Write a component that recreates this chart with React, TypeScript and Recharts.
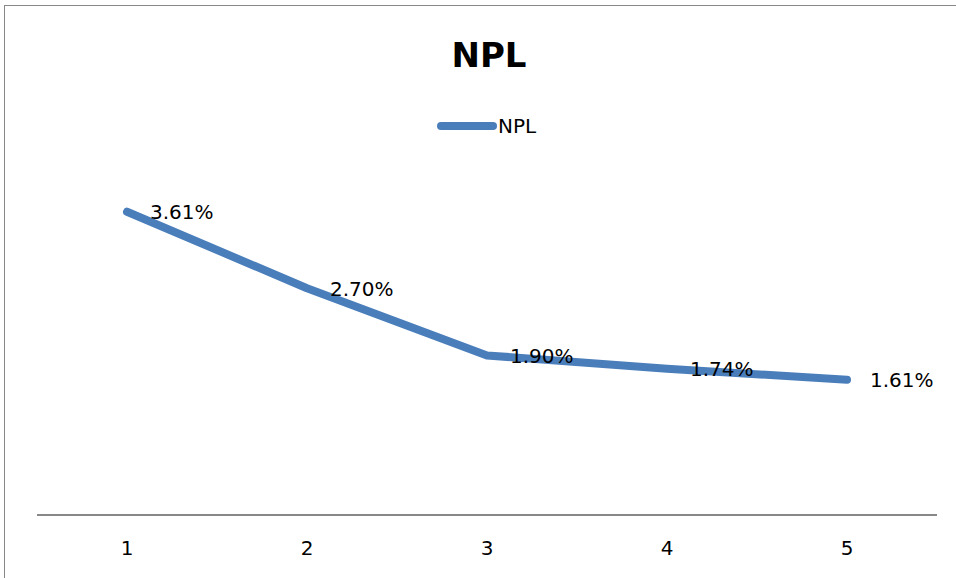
import React from 'react'
import { LineChart, Line, XAxis, YAxis, LabelList } from 'recharts'

const categories = ['1', '2', '3', '4', '5']
const nplValues = [3.61, 2.7, 1.9, 1.74, 1.61]
const seriesName = 'NPL'

const data = categories.map((c, i) => ({ name: c, NPL: nplValues[i] }))

const font = '"DejaVu Sans", sans-serif'
const blue = '#4a7ebb'

const PctLabel = (props: any) => {
  const { x, y, value } = props
  return (
    <text x={x + 23} y={y + 2} fontSize={20} fontFamily={font} fill="#000" textAnchor="start" dominantBaseline="middle">
      {Number(value).toFixed(2)}%
    </text>
  )
}

const Tick = (props: any) => {
  const { x, y, payload } = props
  return (
    <text x={x} y={y + 34} fontSize={20} fontFamily={font} fill="#000" textAnchor="middle" dominantBaseline="middle">
      {payload.value}
    </text>
  )
}

export default function App() {
  return (
    <div style={{ position: 'fixed', left: 0, top: 0, width: 956, height: 578, overflow: 'hidden', background: '#fff' }}>
      <div style={{ position: 'absolute', left: 4, top: 5, width: 1000, height: 700, border: '1px solid #888' }} />
      <div style={{ position: 'absolute', left: 0, top: 0, width: 978, textAlign: 'center', fontFamily: font, fontWeight: 'bold', fontSize: 34, lineHeight: '110px', height: 110 }}>
        NPL
      </div>
      <div style={{ position: 'absolute', left: 436, top: 114, display: 'flex', alignItems: 'center', fontFamily: font, fontSize: 20 }}>
        <svg width={62} height={14}>
          <line x1={5} y1={7} x2={57} y2={7} stroke={blue} strokeWidth={8} strokeLinecap="round" />
        </svg>
        <span>{seriesName}</span>
      </div>
      <div style={{ position: 'absolute', left: 0, top: 0 }}>
        <LineChart width={956} height={578} data={data} margin={{ top: 179, right: 19, bottom: 0, left: 37 }}>
          <XAxis
            dataKey="name"
            height={63}
            padding={{ left: 90, right: 90 }}
            tickLine={false}
            tickSize={0}
            tickMargin={0}
            axisLine={{ stroke: '#888', strokeWidth: 2 }}
            tick={<Tick />}
          />
          <YAxis hide domain={[0, 4]} />
          <Line
            type="linear"
            dataKey="NPL"
            name={seriesName}
            stroke={blue}
            strokeWidth={8}
            strokeLinecap="round"
            strokeLinejoin="round"
            dot={false}
            isAnimationActive={false}
          >
            <LabelList dataKey="NPL" content={<PctLabel />} />
          </Line>
        </LineChart>
      </div>
    </div>
  )
}
